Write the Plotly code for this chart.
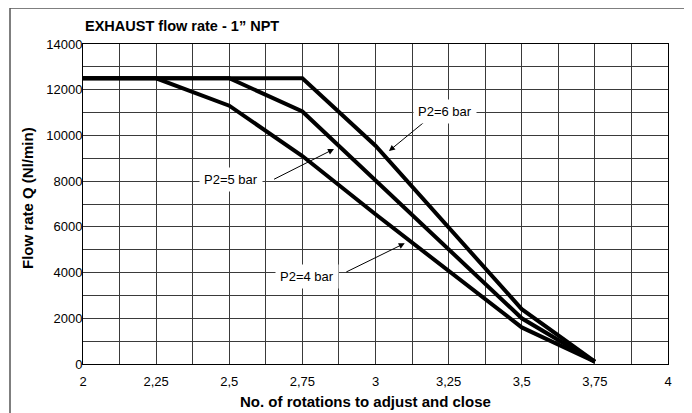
import plotly.graph_objects as go

# data
x_p4 = [2, 2.25, 2.5, 2.75, 3, 3.25, 3.5, 3.75]
q_p4 = [12500, 12500, 11300, 9100, 6550, 4100, 1600, 100]

x_p5 = [2, 2.5, 2.75, 3, 3.5, 3.75]
q_p5 = [12500, 12500, 11050, 8030, 2000, 100]

x_p6 = [2, 2.75, 3, 3.5, 3.75]
q_p6 = [12500, 12500, 9550, 2400, 100]

x_ticks = [2, 2.25, 2.5, 2.75, 3, 3.25, 3.5, 3.75, 4]
x_ticktext = ["2", "2,25", "2,5", "2,75", "3", "3,25", "3,5", "3,75", "4"]
y_ticks = [0, 2000, 4000, 6000, 8000, 10000, 12000, 14000]
y_ticktext = ["0", "2000", "4000", "6000", "8000", "10000", "12000", "14000"]

# label text, label centre, arrow tail, arrow head
labels = ["P2=6 bar", "P2=5 bar", "P2=4 bar"]
label_x = [3.237, 2.505, 2.765]
label_q = [11067, 8093, 3850]
tail_x = [3.175, 2.648, 2.895]
tail_q = [10674, 8049, 3994]
head_x = [3.046, 2.858, 3.1]
head_q = [9318, 9405, 5280]

FONT = "Liberation Sans, Arial, Helvetica, sans-serif"
grid = "#3a3a3a"

# the page body adds an 8px margin, so the figure is built 8px smaller/shifted
OFF = 8
W, H = 692 - OFF, 413 - OFF
PX0, PX1, PY0, PY1 = 83, 668, 44, 364  # plot area on screen
L, R, T, B = PX0 - OFF, W - (PX1 - OFF), PY0 - OFF, H - (PY1 - OFF)
pw, ph = PX1 - PX0, PY1 - PY0


def px_x(sx):
    return (sx - PX0) / pw


def px_y(sy):
    return (PY1 - sy) / ph


fig = go.Figure()
for xs, qs, name in [(x_p4, q_p4, "P2=4 bar"), (x_p5, q_p5, "P2=5 bar"), (x_p6, q_p6, "P2=6 bar")]:
    fig.add_trace(go.Scatter(x=xs, y=qs, mode="lines", name=name,
                             line=dict(color="black", width=4), showlegend=False))

for i in range(len(labels)):
    # arrow only
    fig.add_annotation(x=head_x[i], y=head_q[i], ax=tail_x[i], ay=tail_q[i],
                       xref="x", yref="y", axref="x", ayref="y", text="",
                       showarrow=True, arrowhead=2, arrowsize=1.2, arrowwidth=1,
                       arrowcolor="black", standoff=0, startstandoff=0)
    # label box
    fig.add_annotation(x=label_x[i], y=label_q[i], xref="x", yref="y",
                       text=labels[i], showarrow=False, bgcolor="white",
                       borderpad=4, font=dict(size=13, color="black", family=FONT))

# axis titles
fig.add_annotation(x=px_x(365), y=px_y(401), xref="paper", yref="paper",
                   text="<b>No. of rotations to adjust and close</b>", showarrow=False,
                   xanchor="center", yanchor="middle", font=dict(size=15, family=FONT))
fig.add_annotation(x=px_x(27), y=px_y(198), xref="paper", yref="paper",
                   text="<b>Flow rate Q (Nl/min)</b>", showarrow=False, textangle=-90,
                   xanchor="center", yanchor="middle", font=dict(size=15, family=FONT))

# outer frame
fig.add_shape(type="rect", xref="paper", yref="paper",
              x0=px_x(10), x1=px_x(687), y0=px_y(440), y1=px_y(8),
              line=dict(color="#555", width=1.5))

fig.update_layout(
    width=W, height=H,
    margin=dict(l=L, r=R, t=T, b=B),
    paper_bgcolor="white", plot_bgcolor="white",
    font=dict(family=FONT, size=13, color="black"),
    title=dict(text="<b>EXHAUST flow rate - 1” NPT</b>", x=(85 - OFF) / W, xref="container",
               xanchor="left", y=1 - (26 - OFF) / H, yref="container", yanchor="middle",
               font=dict(size=14.5, family=FONT, color="black")),
)
fig.update_xaxes(
    range=[2, 4], tickvals=x_ticks, ticktext=x_ticktext, automargin=False,
    showgrid=True, gridcolor=grid, gridwidth=1,
    minor=dict(tick0=2, dtick=0.125, showgrid=True, gridcolor=grid, gridwidth=1),
    showline=True, linecolor="black", linewidth=1, mirror=True,
    ticks="", ticklabelstandoff=5, zeroline=False,
)
fig.update_yaxes(
    range=[0, 14000], tickvals=y_ticks, ticktext=y_ticktext, automargin=False,
    showgrid=True, gridcolor=grid, gridwidth=1,
    minor=dict(tick0=0, dtick=1000, showgrid=True, gridcolor=grid, gridwidth=1),
    showline=True, linecolor="black", linewidth=1, mirror=True,
    ticks="", ticklabelstandoff=-3, zeroline=False,
)

fig.write_html("out.html")
